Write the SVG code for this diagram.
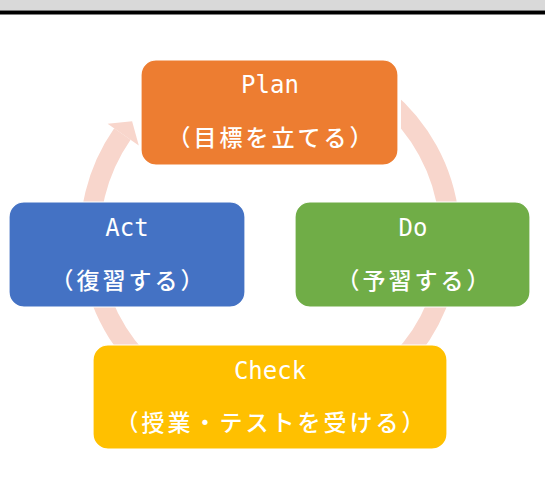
<svg xmlns="http://www.w3.org/2000/svg" width="545" height="493" viewBox="0 0 545 493">
  <style>
    .box { stroke: #ffffff; stroke-width: 1.2; }
    .en { font-family: "DejaVu Sans Mono", "Liberation Mono", monospace; font-size: 24px; fill: #ffffff; text-anchor: middle; }
    .ja { font-family: "Noto Sans CJK JP", "Noto Sans", sans-serif; font-size: 23px; fill: #ffffff; text-anchor: middle; letter-spacing: 3px; font-weight: 500; }
    .ring { fill: none; stroke: #F8D6CC; stroke-width: 20; }
  </style>
  <defs>
    <clipPath id="ringClip">
      <rect x="401" y="0" width="144" height="493"/>
      <rect x="0" y="150" width="545" height="343"/>
      <rect x="0" y="0" width="300" height="493"/>
    </clipPath>
  </defs>
  <rect x="0" y="0" width="545" height="10.5" fill="#D9D9D9"/>
  <rect x="0" y="10.5" width="545" height="4" fill="#000000"/>
  <g id="connectors">
    <path class="ring" clip-path="url(#ringClip)" d="M 385.7 99.1 A 180 180 0 1 1 122.4 134"/>
    <polygon points="107.6,123.7 132.1,121.3 138.8,145.5" fill="#F8D6CC"/>
  </g>
  <g id="plan">
    <rect class="box" x="141" y="60" width="257" height="105" rx="15" fill="#ED7D31"/>
    <text class="en" x="270" y="93">Plan</text>
    <text class="ja" x="271.5" y="146">（目標を立てる）</text>
  </g>
  <g id="do">
    <rect class="box" x="295" y="202" width="235" height="105" rx="15" fill="#70AD47"/>
    <text class="en" x="413" y="236">Do</text>
    <text class="ja" x="414.5" y="289">（予習する）</text>
  </g>
  <g id="check">
    <rect class="box" x="93" y="345" width="354" height="104" rx="15" fill="#FFC000"/>
    <text class="en" x="270" y="379">Check</text>
    <text class="ja" x="271.5" y="431">（授業・テストを受ける）</text>
  </g>
  <g id="act">
    <rect class="box" x="9" y="202" width="236" height="105" rx="15" fill="#4472C4"/>
    <text class="en" x="127" y="236">Act</text>
    <text class="ja" x="128.5" y="289">（復習する）</text>
  </g>
</svg>
